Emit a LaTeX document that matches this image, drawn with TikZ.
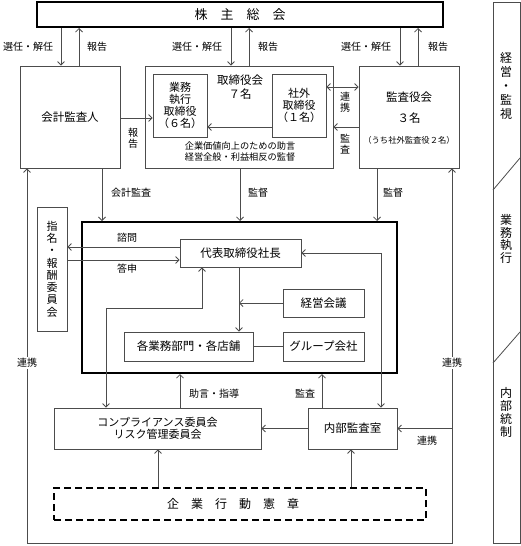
\documentclass[tikz,border=0pt]{standalone}
\usepackage{fontspec}
\setmainfont{Noto Sans CJK JP}
\usetikzlibrary{arrows.meta}
\newcommand\myfs[2]{\fontsize{#1}{#2}\selectfont}
\tikzset{
  ln/.style={draw=black!70, line width=0.8pt},
  arr/.style={ln, -{Straight Barb[length=3.5pt,width=7pt]}},
  darr/.style={ln, {Straight Barb[length=3.5pt,width=7pt]}-{Straight Barb[length=3.5pt,width=7pt]}},
  box/.style={ln, inner sep=0pt, align=center, font=\myfs{11.5}{13}},
  thickbox/.style={draw=black, line width=2pt, inner sep=0pt, align=center},
  lbl/.style={inner sep=1pt, font=\myfs{10}{11}, align=center},
  vlbl/.style={inner sep=1pt, font=\myfs{10}{10.5}, align=center},
  txt/.style={inner sep=0pt, align=center},
}
\begin{document}
\begin{tikzpicture}[x=1pt,y=-1pt]
\useasboundingbox (0,0) rectangle (521,546);
% boxes
\node[thickbox, minimum width=406pt, minimum height=25pt, font=\myfs{13}{13}] (sh) at (240,14.5) {株　主　総　会};
\node[box, minimum width=100pt, minimum height=102pt] (kaikei) at (70,117) {会計監査人};
\node[box, minimum width=188pt, minimum height=102pt] (tori) at (239,117) {};
\node[box, minimum width=54pt, minimum height=63pt, font=\myfs{11}{11.8}] (gyomu) at (180,105.5) {業務\\執行\\取締役\\（６名）};
\node[box, minimum width=54pt, minimum height=63pt, font=\myfs{11}{11.8}] (shagai) at (299,105.5) {社外\\取締役\\（１名）};
\node[box, minimum width=100pt, minimum height=102pt] (kansa) at (409,117) {};
\node[thickbox, minimum width=315pt, minimum height=151pt] (big) at (239.5,297.5) {};
\node[box, minimum width=30pt, minimum height=124pt, font=\myfs{11}{12.3}] (shimei) at (52,269) {指\\名\\・\\報\\酬\\委\\員\\会};
\node[box, minimum width=121pt, minimum height=28pt] (daihyo) at (240.5,253) {代表取締役社長};
\node[box, minimum width=81pt, minimum height=28pt] (keiei) at (323.5,303) {経営会議};
\node[box, minimum width=129pt, minimum height=29pt] (kaku) at (188.5,346.5) {各業務部門・各店舗};
\node[box, minimum width=81pt, minimum height=29pt] (group) at (323.5,346.5) {グループ会社};
\node[box, minimum width=207pt, minimum height=41pt, font=\myfs{11}{11.5}] (comp) at (157.5,428.5) {コンプライアンス委員会\\リスク管理委員会};
\node[box, minimum width=89pt, minimum height=41pt] (naibu) at (352.5,428.5) {内部監査室};
\node[draw=black, line width=1.8pt, dash pattern=on 7pt off 4pt, inner sep=0pt, minimum width=372pt, minimum height=32pt] (kodo) at (240,504) {};
\node[txt, font=\myfs{12}{12}] (kodot) at (233,504) {企　業　行　動　憲　章};
% texts inside boxes
\node[txt, font=\myfs{11.5}{13.5}] (torit) at (240,87) {取締役会\\７名};
\node[txt, font=\myfs{9.2}{11}] (torib) at (240,151.5) {企業価値向上のための助言\\経営全般・利益相反の監督};
\node[txt, font=\myfs{11.5}{13}] (kansat1) at (409,97) {監査役会};
\node[txt, font=\myfs{11.5}{13}] (kansat2) at (409,118) {３名};
\node[txt, font=\myfs{8.3}{9}] (kansat3) at (409,140) {（うち社外監査役２名）};
% side strip
\node[ln, inner sep=0pt, minimum width=27pt, minimum height=541pt] (strip) at (506.5,272.5) {};
\coordinate (d1a) at (493,190); \coordinate (d1b) at (520,158);
\coordinate (d2a) at (493,363); \coordinate (d2b) at (520,332);
\draw[ln] (d1a) -- (d1b);
\draw[ln] (d2a) -- (d2b);
\node[txt, font=\myfs{12}{14}] (s1) at (506,86) {経\\営\\・\\監\\視};
\node[txt, font=\myfs{12}{12.7}] (s2) at (506,239) {業\\務\\執\\行};
\node[txt, font=\myfs{12}{13}] (s3) at (506,412) {内\\部\\統\\制};
% x/y helper coordinates
\coordinate (x61) at (61,0); \coordinate (x79) at (79,0);
\coordinate (x231) at (231,0); \coordinate (x249) at (249,0);
\coordinate (x400) at (400,0); \coordinate (x418) at (418,0);
\coordinate (x102) at (102,0); \coordinate (x240) at (240,0); \coordinate (x377) at (377,0);
\coordinate (x239) at (239,0); \coordinate (x202) at (202,0); \coordinate (x106) at (106,0);
\coordinate (x381) at (381,0); \coordinate (x180) at (180,0); \coordinate (x322) at (322,0);
\coordinate (x158) at (158,0); \coordinate (x351) at (351,0);
\coordinate (y87) at (0,87); \coordinate (y118) at (0,118); \coordinate (y127) at (0,127);
\coordinate (y247) at (0,247); \coordinate (y260) at (0,260); \coordinate (y308) at (0,308);
\coordinate (xl) at (27,543); \coordinate (xr) at (452,543);
% top arrows
\draw[arr] (x61 |- sh.south) -- (x61 |- kaikei.north);
\draw[arr] (x79 |- kaikei.north) -- (x79 |- sh.south);
\draw[arr] (x231 |- sh.south) -- (x231 |- tori.north);
\draw[arr] (x249 |- tori.north) -- (x249 |- sh.south);
\draw[arr] (x400 |- sh.south) -- (x400 |- kansa.north);
\draw[arr] (x418 |- kansa.north) -- (x418 |- sh.south);
\node[lbl] (l1) at (28,47) {選任・解任};
\node[lbl] (l2) at (97,47) {報告};
\node[lbl] (l3) at (197,47) {選任・解任};
\node[lbl] (l4) at (268,47) {報告};
\node[lbl] (l5) at (366,47) {選任・解任};
\node[lbl] (l6) at (438,47) {報告};
% board level
\draw[arr] (kaikei.east |- y118) -- (gyomu.west |- y118);
\node[vlbl] (l7) at (133,138) {報\\告};
\draw[arr] (shagai.west |- y127) -- (gyomu.east |- y127);
\draw[darr] (shagai.east |- y87) -- (kansa.west |- y87);
\node[vlbl] (l8) at (345,102) {連\\携};
\draw[arr] (kansa.west |- y127) -- (tori.east |- y127);
\node[vlbl] (l9) at (345,144) {監\\査};
% down to execution box
\draw[arr] (x102 |- kaikei.south) -- (x102 |- big.north);
\draw[arr] (x240 |- tori.south) -- (x240 |- big.north);
\draw[arr] (x377 |- kansa.south) -- (x377 |- big.north);
\node[lbl] (l10) at (131,193) {会計監査};
\node[lbl] (l11) at (258,193) {監督};
\node[lbl] (l12) at (393,193) {監督};
% execution box internals
\draw[arr] (daihyo.west |- y247) -- (shimei.east |- y247);
\draw[arr] (shimei.east |- y260) -- (daihyo.west |- y260);
\node[lbl] (l13) at (127,238) {諮問};
\node[lbl] (l14) at (127,269) {答申};
\draw[arr] (x239 |- daihyo.south) -- (x239 |- kaku.north);
\draw[arr] (keiei.west) -- (x239 |- keiei.west);
\draw[ln] (kaku.east) -- (group.west);
\draw[darr] (x202 |- daihyo.south) -- (x202 |- y308) -- (x106 |- y308) -- (x106 |- comp.north);
\draw[darr] (daihyo.east) -- (x381 |- daihyo.east) -- (x381 |- naibu.north);
% internal control
\draw[arr] (x180 |- comp.north) -- (x180 |- big.south);
\draw[arr] (x322 |- naibu.north) -- (x322 |- big.south);
\node[lbl] (l15) at (214,394) {助言・指導};
\node[lbl] (l16) at (305,394) {監査};
\draw[arr] (naibu.west) -- (comp.east);
\draw[arr] (x158 |- kodo.north) -- (x158 |- comp.south);
\draw[arr] (x351 |- kodo.north) -- (x351 |- naibu.south);
% outer loop
\draw[darr] (xl |- kaikei.south) -- (xl) -- (xr) -- (xr |- kansa.south);
\draw[arr] (xr |- naibu.east) -- (naibu.east);
\node[lbl, fill=white] (l17) at (27,363) {連携};
\node[lbl, fill=white] (l18) at (452,363) {連携};
\node[lbl] (l19) at (427,441) {連携};
\end{tikzpicture}
\end{document}
